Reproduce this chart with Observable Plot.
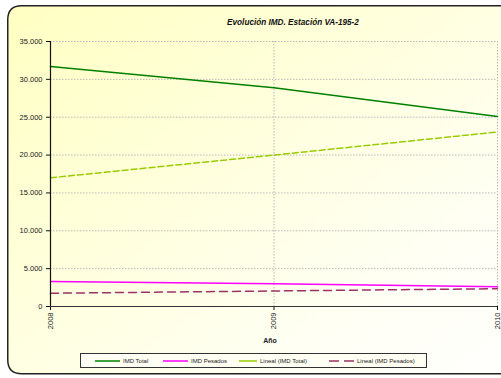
<!DOCTYPE html>
<html>
<head>
<meta charset="utf-8">
<script src="https://cdn.jsdelivr.net/npm/d3@7"></script>
<script src="https://cdn.jsdelivr.net/npm/@observablehq/plot@0.6"></script>
<style>
  html, body { margin: 0; padding: 0; background: #fff; overflow: hidden; }
  body { width: 501px; height: 378px; position: relative; font-family: "Liberation Sans", Arial, sans-serif; }
  #bg { position: absolute; left: 0; top: 0; }
  #chart { position: absolute; left: 0; top: 0; width: 501px; height: 378px; overflow: hidden; }
  #title { position: absolute; left: 0; width: 586px; top: 18px; text-align: center; font-size: 8.2px; font-weight: bold; font-style: italic; color: #111; }
  #xlabel { position: absolute; left: 240px; width: 60px; top: 337px; text-align: center; font-size: 7px; font-weight: bold; color: #222; }
  #legend { position: absolute; left: 80px; top: 353px; width: 345px; height: 13px; border: 1px solid #333; background: #fffff4;
            font-size: 6px; color: #222; }
  #legend .item { position: absolute; top: 0; height: 13px; display: flex; align-items: center; white-space: nowrap; }
  #legend svg { margin-right: 3px; }
</style>
</head>
<body>
<svg id="bg" width="501" height="378">
  <defs>
    <linearGradient id="g" x1="0" y1="0" x2="1" y2="1">
      <stop offset="0" stop-color="#ffffc2"/>
      <stop offset="0.4" stop-color="#ffffdc"/>
      <stop offset="0.8" stop-color="#fffff6"/>
      <stop offset="1" stop-color="#fffffc"/>
    </linearGradient>
  </defs>
  <path d="M 501 5.75 L 21.75 5.75 Q 7.75 5.75 7.75 19.75 L 7.75 359.75 Q 7.75 373.75 21.75 373.75 L 501 373.75 Z" fill="url(#g)" stroke="none"/>
  <path d="M 502 5.75 L 21.75 5.75 Q 7.75 5.75 7.75 19.75 L 7.75 359.75 Q 7.75 373.75 21.75 373.75 L 502 373.75" fill="none" stroke="#222" stroke-width="1.5"/>
</svg>
<div id="chart"></div>
<div id="title">Evolución IMD. Estación VA-195-2</div>
<div id="xlabel">Año</div>
<div id="legend"></div>
<script>
const years = [2008, 2009, 2010];
const imdTotal = [31700, 28900, 25100];
const imdPesados = [3300, 3000, 2600];
const linealTotal = [17000, 20000, 23050];
const linealPesados = [1750, 2050, 2350];
const yTicks = [0, 5000, 10000, 15000, 20000, 25000, 30000, 35000];
const seriesNames = ["IMD Total", "IMD Pesados", "Lineal (IMD Total)", "Lineal (IMD Pesados)"];

const seriesValues = [imdTotal, imdPesados, linealTotal, linealPesados];
const styles = [
  {stroke: "#008000", dash: null, width: 1.5},
  {stroke: "#ff00ff", dash: null, width: 1.5},
  {stroke: "#99cc00", dash: "6,3", width: 1.5},
  {stroke: "#993366", dash: "8,5", width: 1.5}
];
const data = [];
seriesNames.forEach((name, i) => years.forEach((y, j) => data.push({series: name, year: y, value: seriesValues[i][j]})));

const fmt = d => d === 0 ? "0" : d3.format(",")(d).replace(/,/g, ".");

const lineMarks = seriesNames.map((name, i) => Plot.line(data.filter(d => d.series === name), {
  x: "year", y: "value", stroke: styles[i].stroke, strokeWidth: styles[i].width,
  strokeDasharray: styles[i].dash
}));

const chart = Plot.plot({
  width: 501, height: 378,
  marginLeft: 50, marginRight: 4, marginTop: 41, marginBottom: 72,
  style: {background: "transparent", fontFamily: "'Liberation Sans', Arial, sans-serif", fontSize: "7.5px", color: "#222"},
  x: {domain: [2008, 2010], type: "linear"},
  y: {domain: [0, 35000]},
  marks: [
    Plot.ruleY(yTicks.slice(1), {stroke: "#b8b8b8", strokeDasharray: "1.5,1.5", strokeWidth: 1}),
    Plot.ruleX([2009, 2010], {stroke: "#b8b8b8", strokeDasharray: "1.5,1.5", strokeWidth: 1}),
    Plot.axisY({ticks: yTicks, tickFormat: fmt, tickSize: 4, tickPadding: 4, label: null, stroke: "#111"}),
    Plot.axisX({ticks: years, tickFormat: d => String(d), tickSize: 4, tickPadding: 2, tickRotate: -90, label: null, stroke: "#111"}),
    ...lineMarks,
    Plot.ruleX([2008], {stroke: "#111", strokeWidth: 1.2}),
    Plot.ruleY([0], {stroke: "#333", strokeWidth: 1.2})
  ]
});
document.getElementById("chart").appendChild(chart);

// Legend
const legend = document.getElementById("legend");
const legendPos = [14, 82, 158, 248];
seriesNames.forEach((name, i) => {
  const item = document.createElement("div");
  item.className = "item";
  item.style.left = legendPos[i] + "px";
  const w = i === 2 ? 18 : 25;
  const svg = d3.create("svg").attr("width", w).attr("height", 6);
  svg.append("line").attr("x1", 0).attr("x2", w).attr("y1", 3).attr("y2", 3)
    .attr("stroke", styles[i].stroke).attr("stroke-width", 1.5)
    .attr("stroke-dasharray", i === 3 ? "10,5" : null);
  item.appendChild(svg.node());
  const span = document.createElement("span");
  span.textContent = name;
  item.appendChild(span);
  legend.appendChild(item);
});
</script>
</body>
</html>
